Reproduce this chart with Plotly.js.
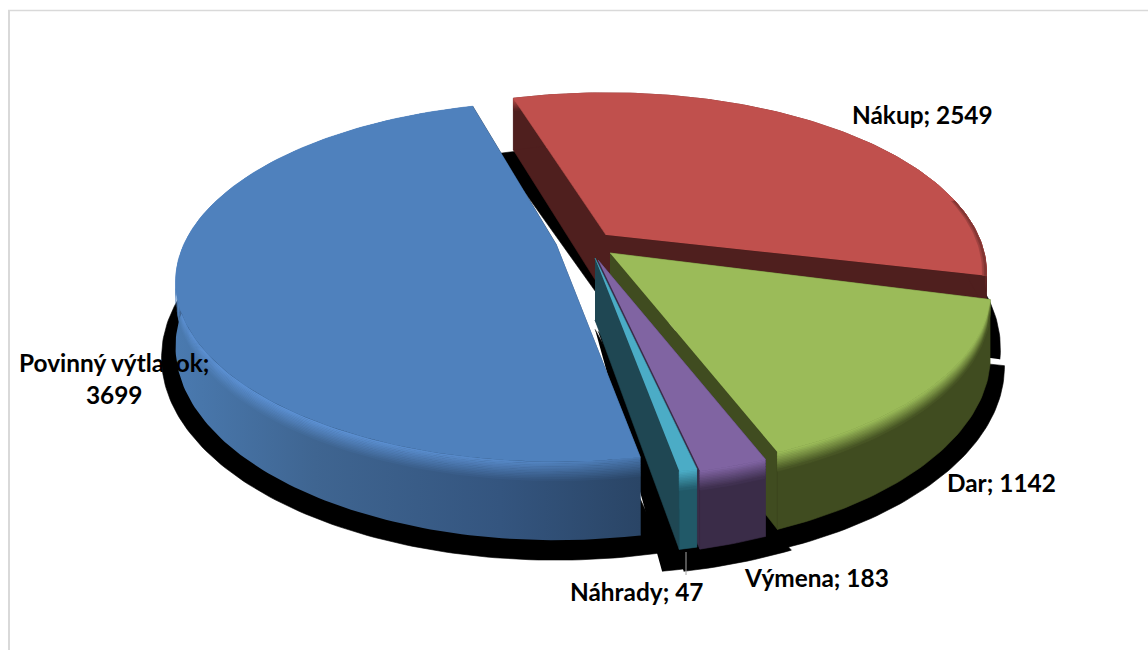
<!DOCTYPE html>
<html><head><meta charset="utf-8">
<script src="https://cdn.plot.ly/plotly-3.0.1.min.js"></script>
<style>html,body{margin:0;padding:0;background:#fff}#c{width:1148px;height:650px}</style>
</head><body><div id="c"></div>
<script>
// ---- data ----
const categories = ["Nákup", "Dar", "Výmena", "Náhrady", "Povinný výtlačok"];
const values = [2549, 1142, 183, 47, 3699];
// ---- styling ----
const topColors = ["#c0504d", "#9bbb59", "#8064a2", "#4bacc6", "#4f81bd"];
const wallColors = ["#4f1f1e", "#404c20", "#3a2c48", "#1f4753", "#2a4566"];
const rimColors = ["#4f1f1e", "#404c20", "#3a2c48", "#215968", "#3f6591"];
const highlightColors = ["#c0504d", "#9bbb59", "#8064a2", "#4bacc6", "#5c91d4"];
const tipX = [606, 610, 598, 595, 556];
const tipY = [235, 253, 260, 258, 244];
const sliceTurn = [-1.8, 0, 0, 0, 0];
const drawOrder = [0, 1, 4, 2, 3];
const labelX = [922, 1001, 816, 636, 114];
const labelY = [114, 482, 577, 591, 378];
// ---- projection of the tilted pie ----
const startAngle = -15.6, Rx = 372, Ry = 172, wallH = 62, persp = 0.21;
const total = values.reduce((a, b) => a + b, 0);
function P(i, deg, r, h) {
  const t = deg * Math.PI / 180, X = r * Math.sin(t), Y = r * Math.cos(t), s = 1 / (1 + persp * Y);
  return [tipX[i] + Rx * X * s, tipY[i] - Ry * Y * s + wallH * h * s];
}
function arc(i, a, b, h, r) {
  const pts = [], n = Math.max(2, Math.ceil(Math.abs(b - a)));
  for (let k = 0; k <= n; k++) pts.push(P(i, a + (b - a) * k / n, r === undefined ? 1 : r, h));
  return pts;
}
function poly(pts, color, grad) {
  const t = { type: "scatter", mode: "lines", x: pts.map(p => p[0]), y: pts.map(p => p[1]),
    fill: "toself", hoverinfo: "skip", showlegend: false,
    line: { width: 0.6, color: grad ? "rgba(0,0,0,0)" : color } };
  if (color) t.fillcolor = color;
  if (grad) t.fillgradient = grad;
  return t;
}
function hex(c) { return [1, 3, 5].map(j => parseInt(c.substr(j, 2), 16)); }
function mix(a, b, f) {
  const A = hex(a), B = hex(b);
  return "rgb(" + A.map((v, j) => Math.round(v + (B[j] - v) * f)).join(",") + ")";
}
const angles = []; let acc = startAngle;
values.forEach((v, i) => { const b = acc + v / total * 360; angles.push([acc + sliceTurn[i], b + sliceTurn[i]]); acc = b; });

const traces = [];
// shadow cast under each slice
drawOrder.forEach(i => {
  const [a, b] = angles[i];
  const pts = [P(i, 0, 0, 1.15)].concat(arc(i, a - 2.5, b + 2.5, 1.12, 1.035));
  traces.push(poly(pts, "#000000"));
});
// slices: walls, rim, bevel, top
const bevelSteps = 12, bevelH = 0.24;
drawOrder.forEach(i => {
  const [a, b] = angles[i];
  const isBlue = i === 4;
  const rimGrad = f => ({ type: "horizontal", start: 175, stop: 640,
    colorscale: [[0, mix("#4a7ab0", highlightColors[4], f)], [0.3, mix("#3f6591", highlightColors[4], f)],
                 [0.7, mix("#34557f", highlightColors[4], f * 0.85)], [1, mix("#2a4566", topColors[4], f * 0.8)]] });
  const strip = (h0, h1, col, grad) => poly(arc(i, a, b, h0).concat(arc(i, b, a, h1)), col, grad);
  [a, b].forEach(e => {
    const q = [P(i, 0, 0, 0), P(i, e, 1, 0), P(i, e, 1, 1), P(i, 0, 0, 1)];
    traces.push(poly(q, wallColors[i]));
  });
  traces.push(isBlue ? strip(0, 1, null, rimGrad(0)) : strip(0, 1, rimColors[i]));
  for (let s = 0; s < bevelSteps; s++) {
    const f = s / bevelSteps, h0 = bevelH * f, h1 = bevelH * (f + 1 / bevelSteps) + 0.005;
    traces.push(isBlue ? strip(h0, h1, null, rimGrad(1 - f))
                       : strip(h0, h1, mix(highlightColors[i], rimColors[i], f)));
  }
  traces.push(poly([P(i, 0, 0, 0)].concat(arc(i, a, b, 0)), topColors[i]));
  if (i === 0) { // darkened rounded edge facing right on the red slice
    [[0.99, 1, 0.3], [0.995, 1, 0.55]].forEach(([r0, r1, f]) => {
      const top = arc(i, 78, b, 0, r1).concat(arc(i, b, 78, 0, r0));
      traces.push(poly(top, mix(topColors[0], wallColors[0], f)));
    });
  }
});
// leader line of the smallest slice
traces.push({ type: "scatter", mode: "lines", x: [686, 686], y: [552, 575], hoverinfo: "skip", showlegend: false,
  line: { color: "#a6a6a6", width: 1 } });

const annotations = categories.map((c, i) => ({
  x: labelX[i], y: labelY[i], xref: "x", yref: "y", showarrow: false, align: "center",
  xanchor: "center", yanchor: "middle",
  text: i === 4 ? "<b>" + c + ";<br>" + values[i] + "</b>" : "<b>" + c + "; " + values[i] + "</b>",
  font: { family: "Lato, Carlito, sans-serif", size: 24.4, color: "#000" }
}));

const layout = {
  width: 1148, height: 650, margin: { l: 0, r: 0, t: 0, b: 0 },
  paper_bgcolor: "#fff", plot_bgcolor: "#fff", showlegend: false,
  xaxis: { range: [0, 1148], visible: false, fixedrange: true },
  yaxis: { range: [650, 0], visible: false, fixedrange: true },
  annotations,
  shapes: [
    { type: "line", xref: "paper", yref: "paper", x0: 9 / 1148, x1: 9 / 1148, y0: 0, y1: 1 - 10.5 / 650, line: { color: "#d9d9d9", width: 2 } },
    { type: "line", xref: "paper", yref: "paper", x0: 8 / 1148, x1: 1, y0: 1 - 10.5 / 650, y1: 1 - 10.5 / 650, line: { color: "#d9d9d9", width: 1.5 } }
  ]
};
Plotly.newPlot("c", traces, layout, { displayModeBar: false, staticPlot: true });
</script></body></html>
